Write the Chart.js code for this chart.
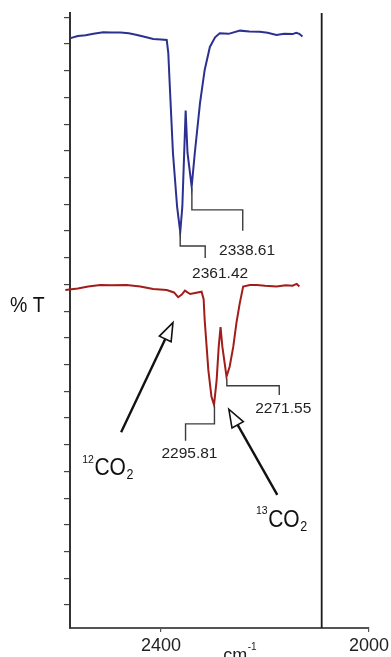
<!DOCTYPE html>
<html lang="en">
<head>
<meta charset="UTF-8">
<title>IR spectrum of 12CO2 / 13CO2</title>
<style>
	html, body { margin: 0; padding: 0; background: #fff; }
	canvas { display: block; }
</style>
</head>
<body>

<canvas id="irChart" width="391" height="657"></canvas>

<script src="https://cdn.jsdelivr.net/npm/chart.js"></script>
<script>

// upper trace (blue): wavenumber in cm-1, transmittance in offset units
const blueWn = [2574, 2560, 2545, 2530, 2511, 2495, 2478, 2462, 2446, 2430, 2415, 2400, 2389, 2386, 2383, 2377, 2369, 2363, 2359, 2355, 2352.6, 2349, 2341, 2335, 2325, 2316, 2306, 2296, 2287, 2270, 2248, 2230, 2210, 2195, 2178, 2163, 2147, 2140, 2134, 2128];
const blueT  = [21.22, 21.30, 21.33, 21.38, 21.44, 21.43, 21.43, 21.40, 21.34, 21.26, 21.19, 21.17, 21.15, 20.67, 19.39, 16.92, 14.90, 13.96, 14.90, 17.15, 18.51, 16.92, 15.66, 16.92, 18.79, 20.03, 20.89, 21.25, 21.40, 21.38, 21.50, 21.47, 21.46, 21.42, 21.34, 21.38, 21.37, 21.42, 21.38, 21.28];

// lower trace (red)
const redWn = [2584, 2560, 2540, 2517, 2495, 2466, 2440, 2415, 2389, 2375, 2367, 2360, 2354, 2344, 2332, 2322, 2318, 2316, 2309, 2303, 2298, 2293, 2289, 2285.5, 2282, 2274, 2268, 2261, 2255, 2248.5, 2242, 2229, 2216, 2200, 2178, 2160, 2147, 2139, 2134];
const redT  = [11.79, 11.85, 11.92, 11.98, 11.97, 11.98, 11.92, 11.83, 11.79, 11.70, 11.52, 11.62, 11.77, 11.64, 11.69, 11.73, 11.45, 10.67, 8.80, 7.80, 7.49, 8.42, 9.67, 10.40, 9.67, 8.55, 8.92, 9.67, 10.55, 11.30, 11.92, 11.98, 11.98, 11.95, 11.92, 11.97, 11.95, 12.02, 11.92];

const xTicks = [2000, 2400];
const yTicks = [0, 1, 2, 3, 4, 5, 6, 7, 8, 9, 10, 11, 12, 13, 14, 15, 16, 17, 18, 19, 20, 21, 22];
const dividerWn = 2091;

// peak labels and the minimum they point at
const peakLabels = ['2361.42', '2338.61', '2295.81', '2271.55'];
const peakWn = [2363.1, 2340.6, 2297.2, 2273.4];
const peakT  = [13.96, 15.60, 7.45, 8.49];

const isotopes = ['12', '13'];

// layout of the annotations, in axis units
const xRange = { min: 2000, max: 2575 };
const yRange = { min: -0.86, max: 22.16 };
const brackets = [
	{ drop: 13.44, across: 2315,   end: 12.99, labelWn: 2286.3, labelT: 12.39 },
	{ drop: 14.79, across: 2242.8, end: 14.01, labelWn: 2234.5, labelT: 13.26 },
	{ drop: 6.78,  across: 2352.8, end: 6.15,  labelWn: 2345.3, labelT: 5.65 },
	{ drop: 8.21,  across: 2172.6, end: 7.86,  labelWn: 2164.9, labelT: 7.33 }
];
const arrows = [
	{ from: [2476.7, 6.47], to: [2377, 10.57] },
	{ from: [2176.4, 4.12], to: [2269.6, 7.33] }
];
const chemPos = [[2551.4, 4.87], [2217.3, 2.93]];

const FONT = '"Liberation Sans", Arial, Helvetica, sans-serif';

function toPoints(xs, ys) {
	return xs.map((x, i) => ({ x: x, y: ys[i] }));
}

function drawArrow(ctx, x0, y0, x1, y1) {
	const ang = Math.atan2(y1 - y0, x1 - x0);
	const len = 18, half = 6.5;
	const bx = x1 - Math.cos(ang) * len, by = y1 - Math.sin(ang) * len;
	ctx.strokeStyle = '#111';
	ctx.lineWidth = 2.4;
	ctx.beginPath();
	ctx.moveTo(x0, y0);
	ctx.lineTo(bx, by);
	ctx.stroke();
	ctx.beginPath();
	ctx.moveTo(x1, y1);
	ctx.lineTo(bx + Math.sin(ang) * half, by - Math.cos(ang) * half);
	ctx.lineTo(bx - Math.sin(ang) * half, by + Math.cos(ang) * half);
	ctx.closePath();
	ctx.fillStyle = '#fff';
	ctx.fill();
	ctx.lineWidth = 1.6;
	ctx.stroke();
}

function drawChem(ctx, sup, x, y) {
	ctx.save();
	ctx.translate(x, y);
	ctx.scale(1, 1.12);
	ctx.fillStyle = '#111';
	ctx.textAlign = 'left';
	ctx.textBaseline = 'alphabetic';
	ctx.font = '10.5px ' + FONT;
	ctx.fillText(sup, 0, -11);
	let w = ctx.measureText(sup).width + 0.5;
	ctx.font = '21px ' + FONT;
	ctx.fillText('CO', w, 0);
	w += ctx.measureText('CO').width + 0.5;
	ctx.font = '12.5px ' + FONT;
	ctx.fillText('2', w, 4);
	ctx.restore();
}

const annotate = {
	id: 'annotate',
	afterDatasetsDraw(chart) {
		const ctx = chart.ctx;
		const xs = chart.scales.x, ys = chart.scales.y;
		const px = w => xs.getPixelForValue(w);
		const py = t => ys.getPixelForValue(t);
		const area = chart.chartArea;

		ctx.save();

		// leader brackets + peak positions
		peakLabels.forEach((label, i) => {
			const b = brackets[i];
			ctx.strokeStyle = '#3c3c3c';
			ctx.lineWidth = 1.4;
			ctx.beginPath();
			ctx.moveTo(px(peakWn[i]), py(peakT[i]));
			ctx.lineTo(px(peakWn[i]), py(b.drop));
			ctx.lineTo(px(b.across), py(b.drop));
			ctx.lineTo(px(b.across), py(b.end));
			ctx.stroke();

			ctx.fillStyle = '#222';
			ctx.font = '15.5px ' + FONT;
			ctx.textAlign = 'center';
			ctx.textBaseline = 'middle';
			ctx.fillText(label, px(b.labelWn), py(b.labelT));
		});

		arrows.forEach(a => {
			drawArrow(ctx, px(a.from[0]), py(a.from[1]), px(a.to[0]), py(a.to[1]));
		});

		isotopes.forEach((iso, i) => {
			drawChem(ctx, iso, px(chemPos[i][0]), py(chemPos[i][1]));
		});

		// axis titles
		ctx.save();
		ctx.translate(area.left - 60, py(10.98));
		ctx.scale(1, 1.12);
		ctx.fillStyle = '#111';
		ctx.font = '19.5px ' + FONT;
		ctx.textAlign = 'left';
		ctx.textBaseline = 'alphabetic';
		ctx.fillText('% T', 0, 0);
		ctx.restore();

		const cx = px(2280.5), cy = area.bottom + 33;
		ctx.fillStyle = '#222';
		ctx.font = '18px ' + FONT;
		ctx.textAlign = 'left';
		ctx.textBaseline = 'alphabetic';
		ctx.fillText('cm', cx, cy);
		const cw = ctx.measureText('cm').width;
		ctx.font = '10px ' + FONT;
		ctx.fillText('-1', cx + cw + 0.5, cy - 11);

		ctx.restore();
	}
};

var ctx = document.getElementById('irChart').getContext('2d');
var irChart = new Chart(ctx, {
	type: 'scatter',
	data: {
		datasets: [
			{
				data: toPoints(blueWn, blueT),
				showLine: true,
				borderColor: '#2c3090',
				borderWidth: 2,
				pointRadius: 0,
				tension: 0
			},
			{
				data: toPoints(redWn, redT),
				showLine: true,
				borderColor: '#a11d1a',
				borderWidth: 2,
				pointRadius: 0,
				tension: 0,
				clip: false
			},
			{
				// separator line on the right
				data: [{ x: dividerWn, y: yRange.min }, { x: dividerWn, y: yRange.max }],
				showLine: true,
				borderColor: '#1a1a1a',
				borderWidth: 1.8,
				pointRadius: 0
			}
		]
	},
	options: {
		responsive: false,
		animation: false,
		devicePixelRatio: 1,
		layout: { padding: { top: 13, right: 22, left: 0, bottom: 0 } },
		plugins: {
			legend: { display: false },
			tooltip: { enabled: false }
		},
		scales: {
			x: {
				type: 'linear',
				reverse: true,
				min: xRange.min,
				max: xRange.max,
				afterBuildTicks: s => { s.ticks = xTicks.map(v => ({ value: v })); },
				afterFit: s => { s.height = 29; },
				ticks: {
					color: '#222',
					font: { family: FONT, size: 18 },
					padding: 3,
					maxRotation: 0,
					autoSkip: false,
					callback: v => String(v)
				},
				grid: { drawOnChartArea: false, drawTicks: true, tickLength: 4, color: '#555', lineWidth: 1.2 },
				border: { display: true, color: '#555', width: 2 }
			},
			y: {
				min: yRange.min,
				max: yRange.max,
				afterBuildTicks: s => { s.ticks = yTicks.map(v => ({ value: v })); },
				afterFit: s => { s.width = 70; },
				ticks: { display: false },
				grid: { drawOnChartArea: false, drawTicks: true, tickLength: 6, color: '#444', lineWidth: 1.2 },
				border: { display: true, color: '#333', width: 2 }
			}
		}
	},
	plugins: [annotate]
});

</script>

</body>
</html>
